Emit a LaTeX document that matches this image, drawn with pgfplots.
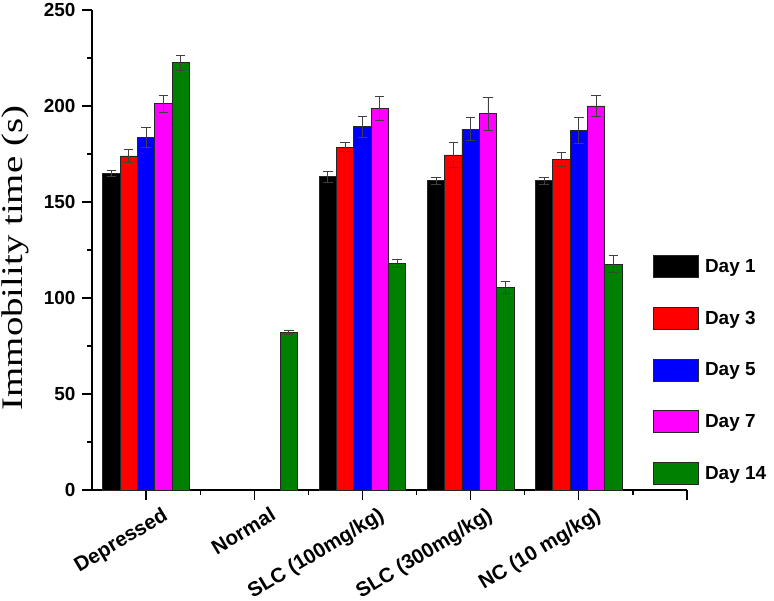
\documentclass[border=0pt]{standalone}
\usepackage{pgfplots}
\pgfplotsset{compat=1.18}
\usepackage{graphicx}
\usepackage{fontspec}
\setmainfont{Liberation Sans}
\newfontfamily\timesfont{Liberation Serif}
\definecolor{dgreen}{RGB}{0,128,0}
\definecolor{mymag}{RGB}{255,0,255}
\definecolor{myred}{RGB}{255,0,0}
\definecolor{myblue}{RGB}{0,0,255}
\begin{document}
\begin{tikzpicture}
\begin{axis}[
  scale only axis, width=595bp, height=480bp,
  xmin=0.5, xmax=6, ymin=0, ymax=250,
  axis x line*=bottom, axis y line*=left,
  axis line style={line width=1.3bp, black},
  tick align=outside,
  major tick length=10bp, minor tick length=5bp,
  every tick/.style={line width=1.3bp, black},
  xtick={1,2,3,4,5,6},
  xticklabels={Depressed,Normal,SLC (100mg/kg),SLC (300mg/kg),NC (10 mg/kg),{}},
  minor x tick num=1,
  ytick={0,50,100,150,200,250},
  minor y tick num=1,
  /pgf/number format/assume math mode=true,
  yticklabel style={font=\fontsize{19}{19}\selectfont\bfseries, xshift=-3bp},
  x tick label style={font=\fontsize{20.5}{20.5}\selectfont\bfseries, rotate=31, anchor=north east, inner sep=0bp, xshift=10bp, yshift=-13bp},
  every axis y label/.style={at={(axis description cs:-0.128,0.483)}, rotate=90, anchor=center},
  ylabel={\timesfont\fontsize{30}{30}\selectfont\scalebox{1.3}[1]{Immobility time (s)}},
  ybar=0pt, bar width=0.16,
  legend style={at={(axis description cs:0.943,0.49)}, anchor=north west, draw=none, fill=none,
    inner sep=0pt, row sep=29bp, column sep=6bp, nodes={inner sep=0pt},
    font=\fontsize{19}{19}\selectfont\bfseries, cells={anchor=west}},
  legend image code/.code={\draw[#1] (0bp,-11bp) rectangle (45bp,11bp);},
  every axis plot/.append style={draw=black!85, line width=0.8bp},
  error bars/y dir=both, error bars/y explicit,
  error bars/error mark=-,
  error bars/error mark options={rotate=90, mark size=4.7bp, line width=0.8bp, draw=black!75},
  error bars/error bar style={line width=0.8bp, draw=black!75},
]
\addplot[fill=black] coordinates {(1,165.0) +- (0,1.5) (3,163.2) +- (0,2.8) (4,161.1) +- (0,1.9) (5,161.1) +- (0,1.9)};
\addplot[fill=myred] coordinates {(1,174.0) +- (0,3.4) (3,178.5) +- (0,2.4) (4,174.5) +- (0,6.4) (5,172.2) +- (0,3.7)};
\addplot[fill=myblue] coordinates {(1,183.5) +- (0,5.1) (3,189.2) +- (0,5.4) (4,188.0) +- (0,5.9) (5,187.3) +- (0,6.8)};
\addplot[fill=mymag] coordinates {(1,201.2) +- (0,4.4) (3,198.6) +- (0,6.2) (4,196.0) +- (0,8.5) (5,200.0) +- (0,5.4)};
\addplot[fill=dgreen] coordinates {(1,222.6) +- (0,3.8) (2,82.1) +- (0,0.8) (3,118.1) +- (0,2.0) (4,105.6) +- (0,3.1) (5,117.7) +- (0,4.5)};
\legend{Day 1,Day 3,Day 5,Day 7,Day 14}
\end{axis}
\pgfresetboundingbox
\path[use as bounding box] (-92bp,-111bp) rectangle (682bp,490bp);
\end{tikzpicture}
\end{document}
